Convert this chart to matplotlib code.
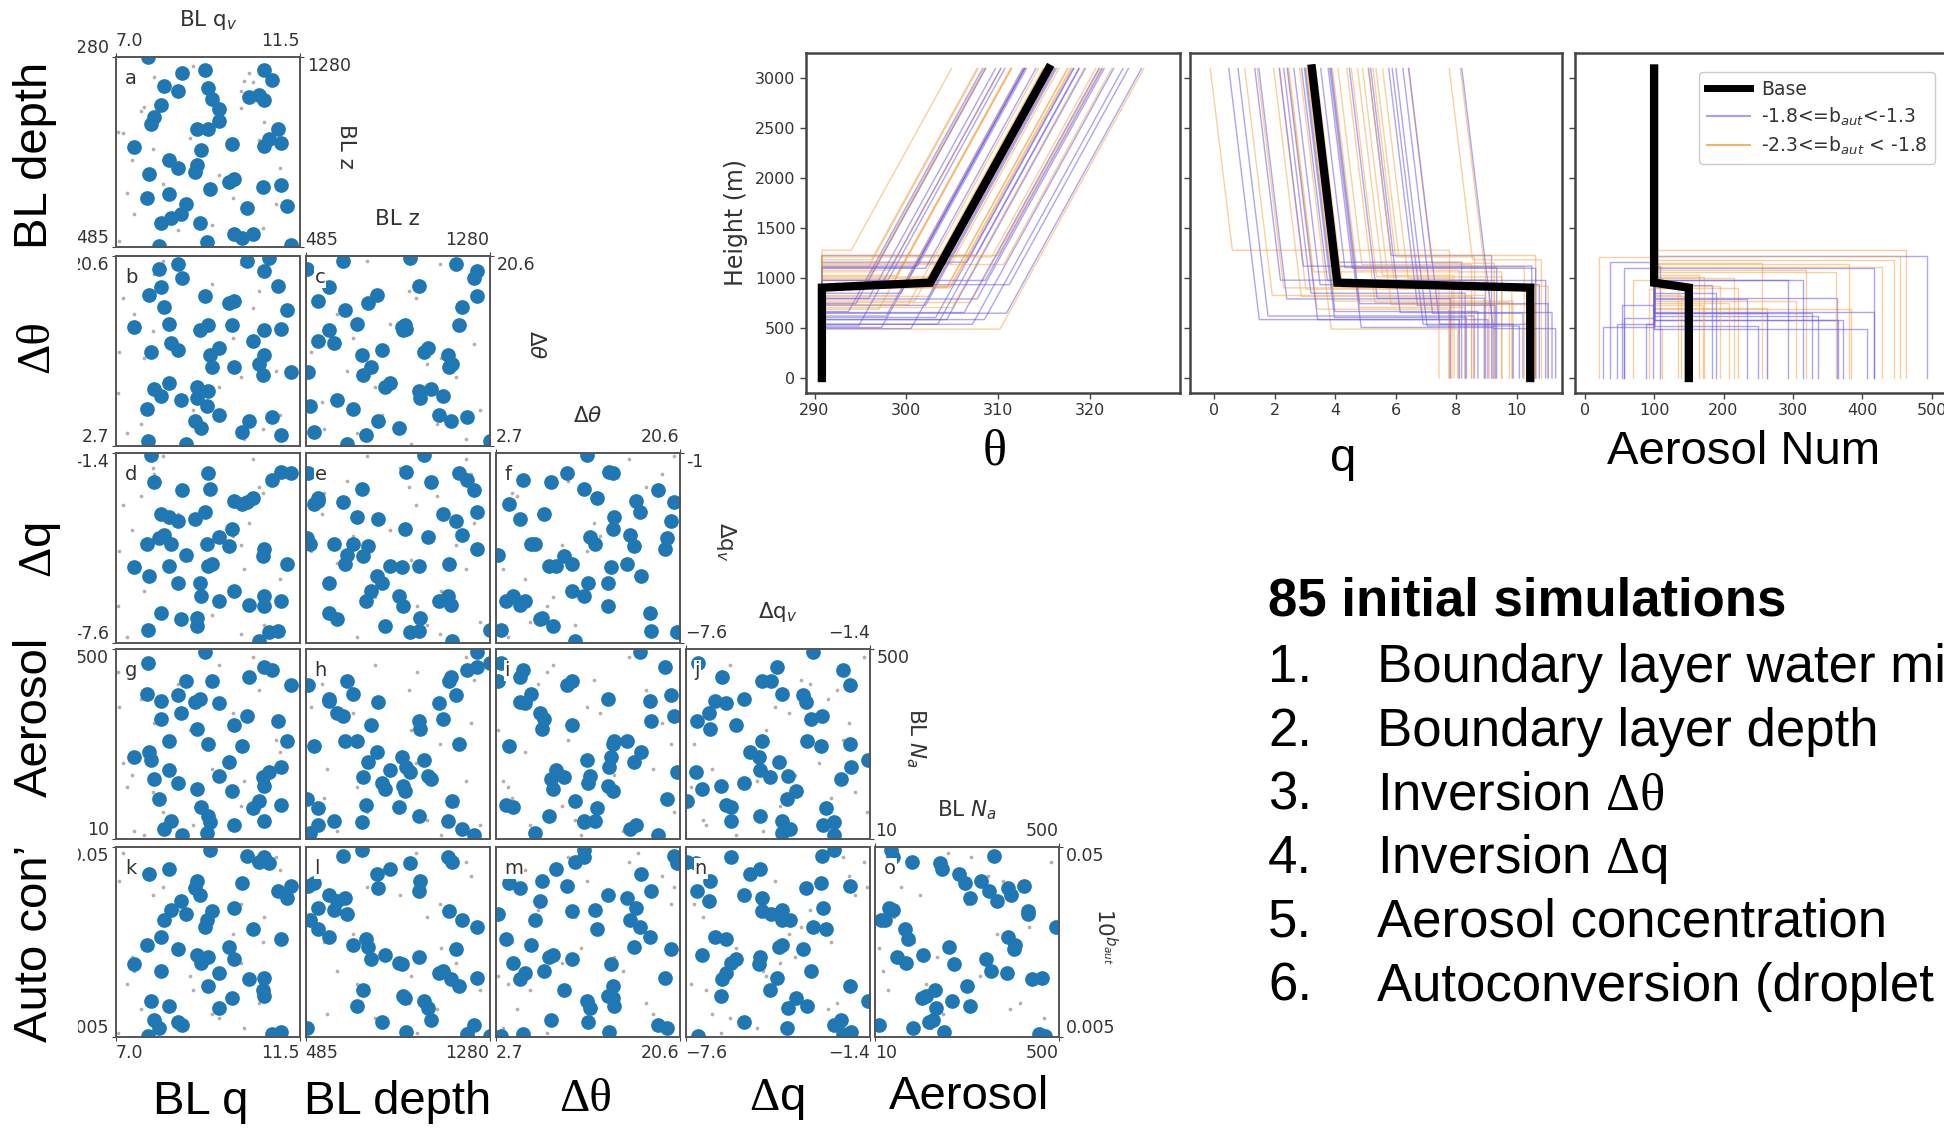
import numpy as np
import matplotlib
matplotlib.use("Agg")
import matplotlib.pyplot as plt
from matplotlib.lines import Line2D
from matplotlib.patches import Rectangle
from matplotlib.ticker import NullLocator

# ---------------- initial design: one entry per simulation ----------------
bl_q = [7.43, 7.76, 7.78, 7.81, 7.86, 7.93, 8.05, 8.10, 8.10, 8.18,
        8.30, 8.30, 8.34, 8.51, 8.51, 8.59, 8.61, 8.72, 8.93, 8.97,
        8.97, 9.05, 9.09, 9.17, 9.22, 9.26, 9.26, 9.30, 9.34, 9.51,
        9.51, 9.76, 9.84, 9.88, 9.88, 10.09, 10.21, 10.25, 10.34, 10.50,
        10.60, 10.63, 10.63, 10.63, 10.75, 10.82, 10.96, 11.04, 11.04, 11.17,
        11.29]
bl_z = [903, 689, 1280, 792, 999, 1027, 490, 1080, 585, 1160,
        849, 706, 606, 1137, 817, 621, 1213, 666, 799, 980,
        827, 585, 889, 1227, 506, 1149, 977, 728, 1106, 1063,
        1013, 756, 917, 770, 538, 521, 649, 1113, 538, 1120,
        735, 1227, 1099, 906, 935, 1184, 977, 920, 745, 656,
        495]
d_theta = [13.9, 6.2, 3.2, 16.9, 11.6, 8.1, 19.4, 7.4, 17.7, 15.8,
           8.6, 14.2, 12.4, 19.8, 11.7, 7.0, 18.5, 2.9, 5.1, 7.2,
           8.3, 13.6, 4.4, 16.8, 6.5, 14.1, 7.9, 11.3, 10.1, 5.6,
           11.9, 16.2, 14.1, 10.1, 16.4, 4.0, 20.1, 5.1, 12.6, 10.4,
           9.4, 19.2, 11.3, 13.6, 20.4, 5.4, 17.8, 13.7, 3.7, 15.5,
           9.7]
d_q = [-5.13, -4.36, -7.18, -5.41, -1.45, -2.36, -4.18, -3.38, -6.61, -4.09,
       -5.10, -3.49, -4.36, -3.63, -5.63, -6.81, -2.61, -4.73, -3.54, -6.78,
       -7.05, -5.63, -6.06, -3.32, -4.36, -2.06, -5.10, -2.58, -5.02, -6.23,
       -4.14, -4.44, -3.87, -5.90, -2.97, -3.05, -2.99, -6.37, -2.88, -7.55,
       -4.75, -4.53, -6.06, -6.39, -7.25, -2.28, -7.22, -2.03, -6.23, -5.02,
       -2.06]
n_a = [221, 383, 463, 234, 215, 165, 112, 319, 365, 36,
       189, 262, 57, 381, 155, 336, 20, 417, 364, 293,
       139, 372, 92, 493, 26, 256, 69, 53, 417, 362,
       172, 208, 135, 305, 46, 250, 327, 428, 89, 109,
       170, 454, 57, 146, 184, 446, 314, 195, 98, 262,
       407]
b_aut = [-1.916, -1.818, -2.296, -1.443, -2.113, -2.211, -2.255, -1.952, -1.773, -1.684,
         -1.416, -2.136, -1.630, -1.839, -2.220, -1.582, -2.238, -1.654, -1.514, -1.479,
         -1.868, -1.550, -1.911, -1.720, -1.684, -2.032, -1.880, -1.318, -1.639, -1.961,
         -2.148, -1.827, -2.095, -1.889, -1.621, -1.487, -1.345, -1.993, -1.732, -1.380,
         -2.050, -1.988, -1.354, -2.086, -1.386, -2.286, -1.532, -2.273, -1.782, -1.568,
         -1.505]

# ---------------- additional samples (small grey markers) ----------------
grey_q = [7.93, 8.88, 10.25, 10.13, 10.34, 10.05, 10.05, 7.60, 7.68, 7.18,
          7.06, 7.91, 8.80, 10.61, 10.50, 11.00, 7.39, 9.51, 8.14, 9.86,
          7.27, 10.92, 7.43, 8.51, 9.34, 7.08, 10.59]
grey_z = [1198, 1241, 1213, 1180, 1177, 1137, 1066, 1052, 1070, 963,
          966, 895, 942, 1009, 932, 817, 849, 785, 749, 692,
          709, 663, 621, 556, 578, 509, 563]
grey_dtheta = [18.9, 6.1, 12.3, 3.4, 15.7, 9.2, 19.8, 4.8, 11.0, 16.6,
               7.7, 13.5, 2.9, 10.4, 17.3, 5.6, 14.2, 8.3, 20.1, 12.9,
               3.9, 9.8, 15.1, 6.8, 18.0, 11.6, 4.3]
grey_dq = [-2.1, -6.9, -3.7, -5.2, -1.6, -4.4, -7.3, -2.8, -5.9, -3.1,
           -6.4, -1.9, -4.9, -7.0, -2.5, -5.5, -3.9, -6.1, -1.5, -4.1,
           -7.4, -2.3, -5.0, -3.4, -6.7, -4.6, -2.7]
grey_na = [310, 45, 420, 160, 480, 95, 255, 370, 20, 205,
           440, 130, 290, 60, 395, 235, 175, 460, 80, 335,
           145, 265, 30, 410, 190, 350, 115]
grey_baut = [-1.45, -2.05, -1.72, -2.25, -1.38, -1.91, -1.60, -2.15, -1.83, -1.33,
             -2.28, -1.55, -1.98, -1.67, -2.12, -1.42, -1.88, -2.20, -1.51, -1.76,
             -2.02, -1.35, -1.95, -1.63, -2.18, -1.48, -1.80]

# ---------------- base case profile ----------------
base_z = [0, 905, 955, 3100]
base_theta = [290.8, 290.8, 302.6, 315.5]
base_q = [10.45, 10.45, 4.07, 3.23]
base_na = [150, 150, 100, 100]

theta_bl = 290.8      # K, well-mixed boundary layer
theta_lapse = 0.006   # K/m above the inversion
q_lapse = -0.0004     # g/kg per m above the inversion
na_free = 100         # free-tropospheric aerosol
z_top = 3100          # m

# ---------------- labels ----------------
var_keys = ['q', 'z', 'dth', 'dq', 'na', 'b']
var_range = {'q': (7.0, 11.5), 'z': (485, 1280), 'dth': (2.7, 20.6),
             'dq': (-7.6, -1.4), 'na': (10, 500), 'b': (-2.3, -1.3)}
x_ticklabels = {'q': ['7.0', '11.5'], 'z': ['485', '1280'], 'dth': ['2.7', '20.6'],
                'dq': ['\u22127.6', '\u22121.4'], 'na': ['10', '500']}
y_ticklabels = {'z': ['485', '1280'], 'dth': ['2.7', '20.6'], 'dq': ['-7.6', '-1.4'],
                'na': ['10', '500'], 'b': ['0.005', '0.05']}
var_titles = {'q': 'BL q$_v$', 'z': 'BL z', 'dth': r'$\Delta\theta$',
              'dq': r'$\Delta$q$_v$', 'na': r'BL $N_a$', 'b': r'$10^{b_{aut}}$'}
panel_letters = 'abcdefghijklmno'
row_names = ['BL depth', '\u0394\u03b8', r'$\Delta$q', 'Aerosol', 'Auto con\u2019']
col_names = ['BL q', 'BL depth', '\u0394\u03b8', r'$\Delta$q', 'Aerosol']
profile_xlabels = ['\u03b8', 'q', 'Aerosol Num']
legend_labels = ['Base', '-1.8<=b$_{aut}$<-1.3', '-2.3<=b$_{aut}$ < -1.8']
list_title = '85 initial simulations'
list_items = ['Boundary layer water mixing ratio',
              'Boundary layer depth',
              r'Inversion $\Delta\mathrm{\theta}$',
              r'Inversion $\Delta$q',
              'Aerosol concentration',
              'Autoconversion (droplet number dependence)']

samples = {'q': bl_q, 'z': bl_z, 'dth': d_theta, 'dq': d_q, 'na': n_a, 'b': b_aut}
extras = {'q': grey_q, 'z': grey_z, 'dth': grey_dtheta, 'dq': grey_dq,
          'na': grey_na, 'b': grey_baut}

# ---------------- styling ----------------
plt.rcParams['font.family'] = ['DejaVu Sans']
plt.rcParams['mathtext.rm'] = 'Liberation Serif'
plt.rcParams['mathtext.it'] = 'Liberation Serif:italic'
plt.rcParams['mathtext.bf'] = 'Liberation Serif:bold'

DOT_BLUE = '#1f77b4'
DOT_GREY = '#b9acaa'
LINE_BLUE = '#6b5de6'
LINE_ORANGE = '#f5a142'
INK = '#333333'
SANS = 'Liberation Sans'
SERIF = 'Liberation Serif'

W, H = 1944, 1130
fig = plt.figure(figsize=(W / 100, H / 100), dpi=100, facecolor='white')


def px_rect(x0, y0, x1, y1):
    return [x0 / W, 1 - y1 / H, (x1 - x0) / W, (y1 - y0) / H]


def fxy(x, y):
    return x / W, 1 - y / H


def shown(key, vals):
    v = np.asarray(vals, dtype=float)
    return 10.0 ** v if key == 'b' else v


def limits(key):
    lo, hi = var_range[key]
    return (10.0 ** lo, 10.0 ** hi) if key == 'b' else (lo, hi)


# ---------------- scatter matrix ----------------
col_left = [116, 305.5, 495.5, 685.5, 875]
row_top = [57, 256, 453, 649, 847]
PW, PH = 184, 190

letters = iter(panel_letters)
for r in range(5):
    ykey = var_keys[r + 1]
    for c in range(r + 1):
        xkey = var_keys[c]
        x0, y0 = col_left[c], row_top[r]
        ax = fig.add_axes(px_rect(x0, y0, x0 + PW, y0 + PH))
        ax.set_zorder(0)
        ax.scatter(shown(xkey, extras[xkey]), shown(ykey, extras[ykey]),
                   s=7, color=DOT_GREY, linewidths=0, zorder=1)
        ax.scatter(shown(xkey, samples[xkey]), shown(ykey, samples[ykey]),
                   s=112, color=DOT_BLUE, linewidths=0, zorder=2)
        if ykey == 'b':
            ax.set_yscale('log')
        xlo, xhi = limits(xkey)
        ylo, yhi = limits(ykey)
        ax.set_xlim(xlo, xhi)
        ax.set_ylim(ylo, yhi)
        ax.set_xticks([xlo, xhi], x_ticklabels[xkey])
        ax.set_yticks([ylo, yhi], y_ticklabels[ykey])
        ax.xaxis.set_minor_locator(NullLocator())
        ax.yaxis.set_minor_locator(NullLocator())

        diag = (c == r)
        ax.tick_params(axis='x', bottom=(r == 4), labelbottom=(r == 4),
                       top=diag, labeltop=diag)
        ax.tick_params(axis='y', left=(c == 0), labelleft=(c == 0),
                       right=diag, labelright=diag)
        ax.tick_params(length=3, width=0.8, color='#444444', labelcolor=INK,
                       labelsize=12.5, pad=2)
        for t, ha in zip(ax.xaxis.get_major_ticks(), ['left', 'right']):
            t.label1.set_horizontalalignment(ha)
            t.label2.set_horizontalalignment(ha)
        yt = ax.yaxis.get_major_ticks()
        for t, va in zip(yt, ['bottom', 'top']):
            t.label1.set_verticalalignment(va)
            t.label2.set_verticalalignment(va)
        if r == 0:
            yt[1].label1.set_verticalalignment('bottom')
        if diag and r < 4:
            # the next diagonal panel's top axis carries this value
            yt[0].label2.set_visible(False)

        for sp in ax.spines.values():
            sp.set_color('#555555')
            sp.set_linewidth(1.4)

        ax.text(9 / PW, 1 - 12 / PH, next(letters), transform=ax.transAxes,
                ha='left', va='top', fontsize=14, color=INK, zorder=5,
                bbox=dict(boxstyle='square,pad=0.05', fc='white', ec='none'))

        if diag:
            ax.text(0.5, 1 + 37 / PH, var_titles[xkey], transform=ax.transAxes,
                    ha='center', va='center', fontsize=15.5, color=INK)
            ax.text(1 + 46 / PW, 0.5 + 6 / PH, var_titles[ykey], transform=ax.transAxes,
                    ha='center', va='center', rotation=-90, fontsize=15.5, color=INK)

# white margins bordering the matrix
fig.patches.append(Rectangle((0, 0), 78 / W, 1, transform=fig.transFigure,
                             facecolor='white', edgecolor='none', zorder=1))
fig.patches.append(Rectangle(fxy(703, 480), 1 - 703 / W, 480 / H, transform=fig.transFigure,
                             facecolor='white', edgecolor='none', zorder=1))

BIG = dict(fontsize=34, color='black', math_fontfamily='custom')
row_pos = [(35, 155), (37, 347), (40, 550), (35, 717), (35, 943)]
for name, (x, y) in zip(row_names, row_pos):
    fam = SERIF if name == '\u0394\u03b8' else SANS
    fig.text(*fxy(x, y), name, rotation=90, ha='center', va='center',
             family=fam, zorder=3, **BIG)
col_pos = [(201, 1102), (398, 1102), (586, 1100), (777, 1100), (969, 1097)]
for name, (x, y) in zip(col_names, col_pos):
    fam = SERIF if name == '\u0394\u03b8' else SANS
    fig.text(*fxy(x, y), name, ha='center', va='center', family=fam, zorder=3, **BIG)

# ---------------- vertical profiles ----------------
prof_boxes = [(806, 53, 1180, 393), (1190, 53, 1562, 393), (1575, 53, 1947, 393)]
prof_axes = [fig.add_axes(px_rect(*b)) for b in prof_boxes]
ax_t, ax_q, ax_n = prof_axes

for i in range(len(bl_z)):
    if b_aut[i] >= -1.8:
        col, alpha = LINE_BLUE, 0.55
    else:
        col, alpha = LINE_ORANGE, 0.5
    zi = bl_z[i]
    zz = [0, zi, zi, z_top]
    th_ft = theta_bl + d_theta[i]
    ax_t.plot([theta_bl, theta_bl, th_ft, th_ft + theta_lapse * (z_top - zi)], zz,
              color=col, lw=1.0, alpha=alpha)
    q_ft = bl_q[i] + d_q[i]
    ax_q.plot([bl_q[i], bl_q[i], q_ft, q_ft + q_lapse * (z_top - zi)], zz,
              color=col, lw=1.0, alpha=alpha)
    ax_n.plot([n_a[i], n_a[i], na_free, na_free], zz, color=col, lw=1.0, alpha=alpha)

for ax, bx in zip(prof_axes, [base_theta, base_q, base_na]):
    ax.plot(bx, base_z, color='black', lw=6, solid_joinstyle='miter', zorder=5)

ax_t.set_xlim(289.07, 329.8)
ax_t.set_xticks([290, 300, 310, 320])
ax_q.set_xlim(-0.8, 11.5)
ax_q.set_xticks([0, 2, 4, 6, 8, 10])
ax_n.set_xlim(-14, 522)
ax_n.set_xticks([0, 100, 200, 300, 400, 500])
for k, ax in enumerate(prof_axes):
    ax.set_zorder(2)
    ax.set_ylim(-150, 3255)
    ax.set_yticks(np.arange(0, 3001, 500))
    ax.tick_params(direction='out', length=4, width=1, color='#444444',
                   labelcolor=INK, labelsize=11.5, labelleft=(k == 0))
    for sp in ax.spines.values():
        sp.set_color('#444444')
        sp.set_linewidth(1.8)
ax_t.set_ylabel('Height (m)', fontsize=17, color=INK)
ax_t.yaxis.set_label_coords((748 - 806) / 374, 0.5)

handles = [Line2D([], [], color='black', lw=5),
           Line2D([], [], color=LINE_BLUE, lw=1.5, alpha=0.6),
           Line2D([], [], color=LINE_ORANGE, lw=1.5, alpha=0.8)]
leg = ax_n.legend(handles, legend_labels, loc='upper left',
                  bbox_to_anchor=fxy(1690, 63), bbox_transform=fig.transFigure,
                  fontsize=13.5, frameon=True, framealpha=1, edgecolor='#cccccc',
                  handlelength=2.3, borderpad=0.4, labelspacing=0.35,
                  handletextpad=0.6)
for t in leg.get_texts():
    t.set_color(INK)

fig.text(*fxy(995, 452), profile_xlabels[0], ha='center', va='center',
         family=SERIF, fontsize=36, zorder=3)
fig.text(*fxy(1343, 459), profile_xlabels[1], ha='center', va='center',
         family=SANS, fontsize=34, zorder=3)
fig.text(*fxy(1744, 452), profile_xlabels[2], ha='center', va='center',
         family=SANS, fontsize=34, zorder=3)

# ---------------- description ----------------
fig.text(*fxy(1268, 616), list_title, ha='left', va='baseline', family=SANS,
         fontsize=38, fontweight='bold', zorder=3)
for k, item in enumerate(list_items):
    yb = 682 + 63.7 * k
    fig.text(*fxy(1268, yb), f'{k + 1}.', ha='left', va='baseline', family=SANS,
             fontsize=38, zorder=3)
    fig.text(*fxy(1377, yb), item, ha='left', va='baseline', family=SANS,
             fontsize=38, math_fontfamily='custom', zorder=3)

fig.savefig('out.png', dpi=100, facecolor='white')
